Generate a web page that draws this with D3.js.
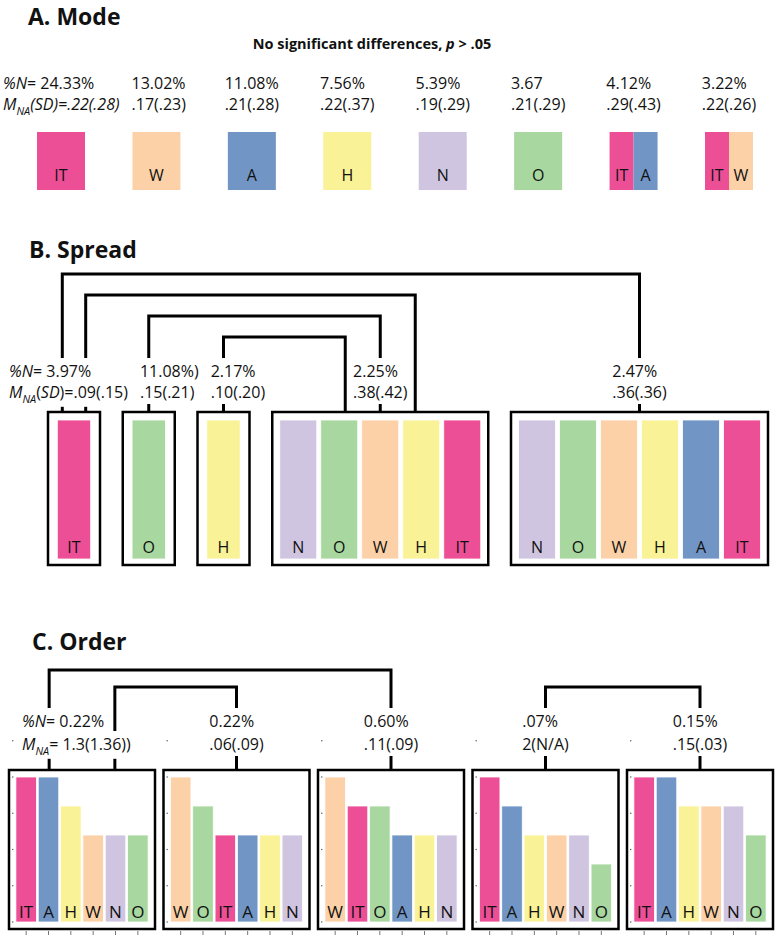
<!DOCTYPE html>
<html><head><meta charset="utf-8">
<script src="https://cdn.jsdelivr.net/npm/d3@7"></script>
<style>
body{margin:0;background:#fff;}
svg text{font-family:"Open Sans",sans-serif;fill:#111;}
</style></head><body>
<svg id="c" width="776" height="939"></svg>
<script>
// ---------- data ----------
const colors = {IT:"#ED4F97", W:"#FDD1A7", A:"#7196C5", H:"#FAF296", N:"#D0C5E0", O:"#A8D7A0"};

// A. Mode
const modeGroups = [["IT"],["W"],["A"],["H"],["N"],["O"],["IT","A"],["IT","W"]];
const modePct = ["24.33%","13.02%","11.08%","7.56%","5.39%","3.67","4.12%","3.22%"];
const modeM = [".22(.28)",".17(.23)",".21(.28)",".22(.37)",".19(.29)",".21(.29)",".29(.43)",".22(.26)"];

// B. Spread
const spreadGroups = [["IT"],["O"],["H"],["N","O","W","H","IT"],["N","O","W","H","A","IT"]];
const spreadPct = ["3.97%","11.08%)","2.17%","2.25%","2.47%"];
const spreadM = [".09(.15)",".15(.21)",".10(.20)",".38(.42)",".36(.36)"];
const spreadLinks = [[0,4],[0,3],[1,3],[2,3]];

// C. Order
const orderCats = [
  ["IT","A","H","W","N","O"],
  ["W","O","IT","A","H","N"],
  ["W","IT","O","A","H","N"],
  ["IT","A","H","W","N","O"],
  ["IT","A","H","W","N","O"]];
const orderVals = [
  [5,5,4,3,3,3],
  [5,4,3,3,3,3],
  [5,4,4,3,3,3],
  [5,4,3,3,3,2],
  [5,5,4,4,4,3]];
const orderPct = ["0.22%","0.22%","0.60%",".07%","0.15%"];
const orderM = ["1.3(1.36))",".06(.09)",".11(.09)","2(N/A)",".15(.03)"];
const orderLinks = [[0,2],[0,1],[3,4]];
const orderYTicks = [0,1.25,2.5,3.75,5,6.25];

// ---------- helpers ----------
const svg = d3.select("#c");
const statSize = 16;

function writeLine(g, parts, size){
  const t = g.append("text").attr("font-size", size);
  let shifted = false;
  parts.forEach(p => {
    const ts = t.append("tspan").text(p.t);
    if (p.it) ts.attr("font-style","italic");
    if (p.sub){ ts.attr("font-size", size*0.68).attr("dy", size*0.3); shifted = true; }
    else if (shifted){ ts.attr("dy", -size*0.3); shifted = false; }
  });
  return t;
}

// two-line stat blocks, left-aligned, block centered on its box, shifted right to avoid overlap
function statBlocks(g, centers, firstX, y1, y2, rows1, rows2, size, gap){
  let prevEnd = -Infinity;
  const lines = [];
  centers.forEach((c,i) => {
    const t1 = writeLine(g, rows1[i], size).attr("y", y1);
    const t2 = writeLine(g, rows2[i], size).attr("y", y2);
    const w = Math.max(t1.node().getComputedTextLength(), t2.node().getComputedTextLength());
    let x0 = (i === 0) ? firstX : c - w/2;
    if (i > 0 && x0 < prevEnd + gap) x0 = prevEnd + gap;
    t1.attr("x", x0); t2.attr("x", x0);
    prevEnd = x0 + w;
    lines.push(t1.node().getBBox(), t2.node().getBBox());
  });
  return lines;
}

function drawBrackets(g, links, boxes, y0, yStep, textBoxes, maxSp, boxTop){
  const maxSpan = d3.max(links, l => Math.abs(l[1]-l[0]));
  const att = boxes.map(() => []);
  links.forEach((l,k) => {
    att[l[0]].push({k, key: -(l[1]-l[0])});
    att[l[1]].push({k, key: (l[1]-l[0])});
  });
  const ax = {};
  att.forEach((arr,b) => {
    arr.sort((a,c) => a.key - c.key);
    const n = arr.length, bx = boxes[b];
    const c = (bx.l + bx.r)/2;
    const sp = n > 1 ? Math.min((bx.r - bx.l)*0.45, maxSp) : 0;
    arr.forEach((a,i) => { ax[a.k + "_" + b] = c + (i - (n-1)/2) * sp; });
  });
  function cut(x){
    const hits = textBoxes.filter(bb => x >= bb.x - 3 && x <= bb.x + bb.width + 3);
    if (!hits.length) return null;
    return [d3.min(hits, h => h.y) - 2, d3.max(hits, h => h.y + h.height) + 1];
  }
  links.forEach((l,k) => {
    const y = y0 + (maxSpan - Math.abs(l[1]-l[0])) * yStep;
    const xl = ax[k + "_" + l[0]], xr = ax[k + "_" + l[1]];
    const cl = cut(xl), cr = cut(xr);
    const yl = cl ? cl[0] : boxTop, yr = cr ? cr[0] : boxTop;
    g.append("path").attr("d", d3.line()([[xl,yl],[xl,y],[xr,y],[xr,yr]]))
      .attr("fill","none").attr("stroke","#000").attr("stroke-width",3);
    [[xl,cl],[xr,cr]].forEach(([x,c]) => {
      if (c && c[1] < boxTop) g.append("line").attr("x1",x).attr("x2",x).attr("y1",c[1]).attr("y2",boxTop)
        .attr("stroke","#000").attr("stroke-width",3);
    });
  });
}

function title(g, x, y, txt){
  g.append("text").attr("x",x).attr("y",y).attr("font-size",23).attr("font-weight",700).text(txt);
}

// ---------- A. Mode ----------
const gA = svg.append("g");
title(gA, 28, 25, "A. Mode");
const sub = gA.append("text").attr("x",372).attr("y",49).attr("font-size",14.5).attr("font-weight",700)
  .attr("text-anchor","middle");
sub.append("tspan").text("No significant differences, ");
sub.append("tspan").attr("font-style","italic").text("p");
sub.append("tspan").text(" > .05");

const xA = d3.scalePoint().domain(d3.range(modeGroups.length)).range([61,729]);
const modeBoxW = 48;
modeGroups.forEach((grp,i) => {
  const c = xA(i);
  const xs = d3.scaleBand().domain(grp).range([c - modeBoxW/2, c + modeBoxW/2]);
  grp.forEach(k => {
    gA.append("rect").attr("x", xs(k)).attr("y",132).attr("width", xs.bandwidth()).attr("height",58)
      .attr("fill", colors[k]);
    gA.append("text").attr("x", xs(k) + xs.bandwidth()/2).attr("y",181).attr("font-size",16)
      .attr("text-anchor","middle").text(k);
  });
});
statBlocks(gA, modeGroups.map((d,i) => xA(i)), 3, 89, 110,
  modePct.map((p,i) => i === 0 ? [{t:"%N",it:true},{t:"= " + p}] : [{t:p}]),
  modeM.map((m,i) => i === 0 ? [{t:"M",it:true},{t:"NA",it:true,sub:true},{t:"(SD)=" + m,it:true}] : [{t:m}]),
  statSize, 12);

// ---------- B. Spread ----------
const gB = svg.append("g");
title(gB, 29, 258, "B. Spread");
const bStep = 41, bGap = 4, bPad = 7.5, bTop = 412, bBot = 565;
const bWidths = spreadGroups.map(g => g.length*bStep - bGap + 2*bPad);
const bInterval = (768 - 48 - d3.sum(bWidths)) / (spreadGroups.length - 1);
const xB = d3.scaleLinear().domain([0,1]).range([48,49]);
let cursor = 0;
const bBoxes = spreadGroups.map((g,i) => {
  const l = xB(cursor); cursor += bWidths[i] + bInterval;
  return {l, r: l + bWidths[i]};
});
spreadGroups.forEach((grp,i) => {
  const b = bBoxes[i];
  gB.append("rect").attr("x", b.l).attr("y", bTop).attr("width", b.r - b.l).attr("height", bBot - bTop)
    .attr("fill","none").attr("stroke","#000").attr("stroke-width",2.5);
  const xs = d3.scaleBand().domain(d3.range(grp.length)).range([b.l + bPad, b.r - bPad])
    .paddingInner(bGap/bStep).paddingOuter(0);
  grp.forEach((k,j) => {
    gB.append("rect").attr("x", xs(j)).attr("y",420).attr("width", xs.bandwidth()).attr("height",139)
      .attr("fill", colors[k]).attr("stroke","#fff").attr("stroke-width",0.8);
    gB.append("text").attr("x", xs(j) + xs.bandwidth()/2).attr("y",553).attr("font-size",16)
      .attr("text-anchor","middle").text(k);
  });
});
const bText = statBlocks(gB, bBoxes.map(b => (b.l + b.r)/2), 9, 377, 398,
  spreadPct.map((p,i) => i === 0 ? [{t:"%N",it:true},{t:"= " + p}] : [{t:p}]),
  spreadM.map((m,i) => i === 0 ? [{t:"M",it:true},{t:"NA",it:true,sub:true},{t:"("},{t:"SD",it:true},{t:")=" + m}] : [{t:m}]),
  statSize, 12);
drawBrackets(gB, spreadLinks, bBoxes, 274, 21, bText, 35, bTop);

// ---------- C. Order ----------
const gC = svg.append("g");
title(gC, 32, 650, "C. Order");
const cTop = 770, cBot = 929;
const xP = d3.scaleBand().domain(d3.range(orderCats.length)).range([9,773]).paddingInner(0.055).paddingOuter(0);
const yC = d3.scaleLinear().domain([0,5]).range([922,777]);
const cBoxes = orderCats.map((d,i) => ({l: xP(i), r: xP(i) + xP.bandwidth()}));
orderCats.forEach((cats,i) => {
  const pl = xP(i);
  const xs = d3.scaleBand().domain(d3.range(cats.length)).range([pl + 6, pl + 140])
    .paddingInner(0.08).paddingOuter(0.04);
  orderYTicks.forEach(v => {
    gC.append("rect").attr("x", pl + 3).attr("y", yC(v) - 0.6).attr("width",1.4).attr("height",1.2).attr("fill","#666");
  });
  cats.forEach((k,j) => {
    const v = orderVals[i][j];
    gC.append("rect").attr("x", xs(j)).attr("y", yC(v)).attr("width", xs.bandwidth()).attr("height", yC(0) - yC(v))
      .attr("fill", colors[k]).attr("stroke","#fff").attr("stroke-width",0.8);
    gC.append("text").attr("x", xs(j) + xs.bandwidth()/2).attr("y",918).attr("font-size",17)
      .attr("text-anchor","middle").text(k);
    gC.append("line").attr("x1", xs(j) + xs.bandwidth()/2).attr("x2", xs(j) + xs.bandwidth()/2)
      .attr("y1",931).attr("y2",935).attr("stroke","#777").attr("stroke-width",1);
  });
  gC.append("rect").attr("x", pl).attr("y", cTop).attr("width", xP.bandwidth()).attr("height", cBot - cTop)
    .attr("fill","none").attr("stroke","#000").attr("stroke-width",2.5);
});
const cText = statBlocks(gC, cBoxes.map(b => (b.l + b.r)/2), 22, 727, 750,
  orderPct.map((p,i) => i === 0 ? [{t:"%N",it:true},{t:"= " + p}] : [{t:p}]),
  orderM.map((m,i) => i === 0 ? [{t:"M",it:true},{t:"NA",it:true,sub:true},{t:"= " + m}] : [{t:m}]),
  statSize, 12);
drawBrackets(gC, orderLinks, cBoxes, 670, 17, cText, 71, cTop);
</script>
</body></html>
